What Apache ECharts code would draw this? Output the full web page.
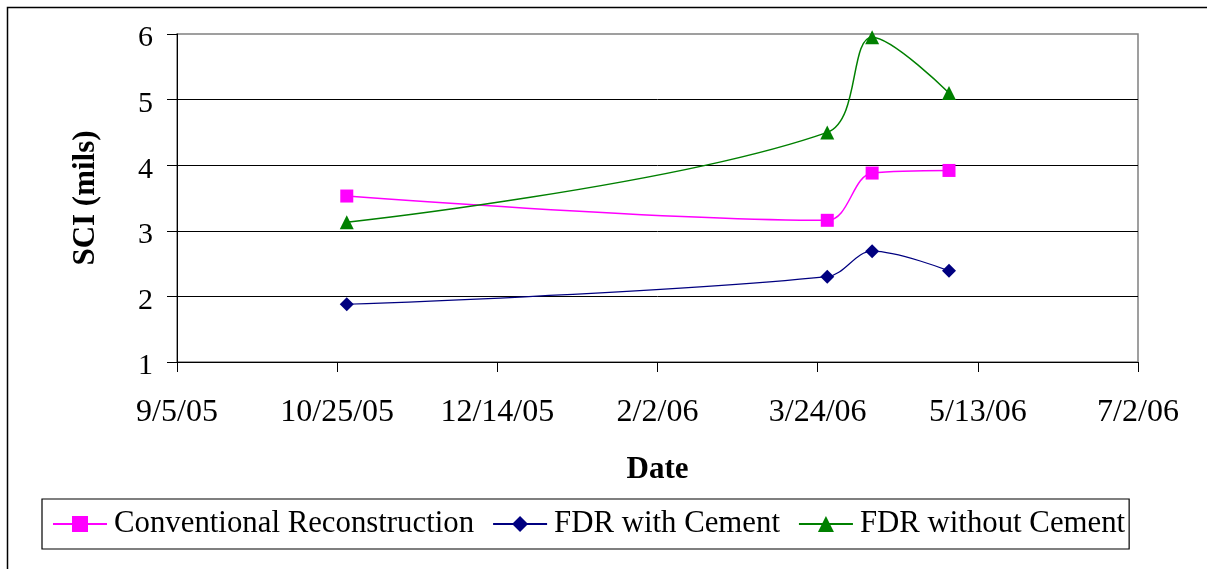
<!DOCTYPE html>
<html>
<head>
<meta charset="utf-8">
<script src="https://cdn.jsdelivr.net/npm/echarts@6/dist/echarts.min.js"></script>
<style>
html,body{margin:0;padding:0;background:#fff;}
#chart{width:1207px;height:569px;}
</style>
</head>
<body>
<div id="chart"></div>
<script>
// ---- data ----
const startDate = '2005-09-05';
const endDate = '2006-07-02';
const tickDays = 50;
const dates = ['2005-10-28', '2006-03-27', '2006-04-10', '2006-05-04'];
const conventional = [3.53, 3.16, 3.88, 3.92];
const fdrWithCement = [1.88, 2.30, 2.69, 2.39];
const fdrWithoutCement = [3.13, 4.50, 5.95, 5.10];
const seriesNames = ['Conventional Reconstruction', 'FDR with Cement', 'FDR without Cement'];

const DAY = 86400000;
function toUTC(s){ const p = s.split('-').map(Number); return Date.UTC(p[0], p[1]-1, p[2]); }
const t0 = toUTC(startDate);
function dayOf(s){ return Math.round((toUTC(s) - t0) / DAY); }
function fmt(d){
  const dt = new Date(t0 + d * DAY);
  const yy = String(dt.getUTCFullYear() % 100).padStart(2, '0');
  return (dt.getUTCMonth()+1) + '/' + dt.getUTCDate() + '/' + yy;
}
const xs = dates.map(dayOf);
function pairs(vals){ return xs.map((x,i)=>[x, vals[i]]); }

const FONT = '"Liberation Serif", "Times New Roman", serif';
const chart = echarts.init(document.getElementById('chart'), null, {renderer:'canvas'});

function mkSeries(name, vals, color, symbol, size, width){
  return {
    name: name, type: 'line', data: pairs(vals),
    smooth: 0.35, symbol: symbol, symbolSize: size,
    lineStyle: {color: color, width: width},
    itemStyle: {color: color, borderWidth: 0},
    emphasis: {disabled: true},
    z: 3
  };
}

chart.setOption({
  animation: false,
  backgroundColor: '#fff',
  graphic: [{
    type: 'rect', left: 5, top: 5, z: -1,
    shape: {x: 0, y: 0, width: 1400, height: 800},
    style: {fill: 'none', stroke: '#000', lineWidth: 1.5},
    silent: true
  }],
  grid: {
    left: 177, top: 34, width: 961, height: 328,
    show: true, borderColor: '#808080', borderWidth: 1.5, backgroundColor: 'transparent'
  },
  xAxis: {
    type: 'value', min: 0, max: dayOf(endDate), interval: tickDays,
    name: 'Date', nameLocation: 'middle', nameGap: 92,
    nameTextStyle: {fontFamily: FONT, fontSize: 31, fontWeight: 'bold', color: '#000'},
    axisLine: {show: true, lineStyle: {color: '#000', width: 1}},
    axisTick: {show: true, inside: false, length: 10, lineStyle: {color: '#000', width: 1}},
    axisLabel: {fontFamily: FONT, fontSize: 32, color: '#000', margin: 35, formatter: v => fmt(v)},
    splitLine: {show: false}
  },
  yAxis: {
    type: 'value', min: 1, max: 6, interval: 1,
    name: 'SCI (mils)', nameLocation: 'middle', nameGap: 76, nameRotate: 90,
    nameTextStyle: {fontFamily: FONT, fontSize: 31, fontWeight: 'bold', color: '#000'},
    axisLine: {show: true, lineStyle: {color: '#000', width: 1}},
    axisTick: {show: true, inside: false, length: 10, lineStyle: {color: '#000', width: 1}},
    axisLabel: {fontFamily: FONT, fontSize: 30, color: '#000', margin: 24, verticalAlign: 'top', lineHeight: 9},
    splitLine: {show: true, showMaxLine: false, lineStyle: {color: '#000', width: 1}}
  },
  legend: {
    left: 42, top: 499,
    padding: [9, 4, 9, 10],
    borderColor: '#000', borderWidth: 1.2,
    itemWidth: 54, itemHeight: 20, itemGap: 18,
    textStyle: {fontFamily: FONT, fontSize: 30.8, color: '#000', lineHeight: 32, padding: [0,0,0,2]},
    data: seriesNames
  },
  series: [
    mkSeries(seriesNames[0], conventional, '#ff00ff', 'rect', 13, 1.5),
    mkSeries(seriesNames[1], fdrWithCement, '#000080', 'diamond', 14, 1.2),
    mkSeries(seriesNames[2], fdrWithoutCement, '#008000', 'triangle', 14, 1.5)
  ]
});
</script>
</body>
</html>
